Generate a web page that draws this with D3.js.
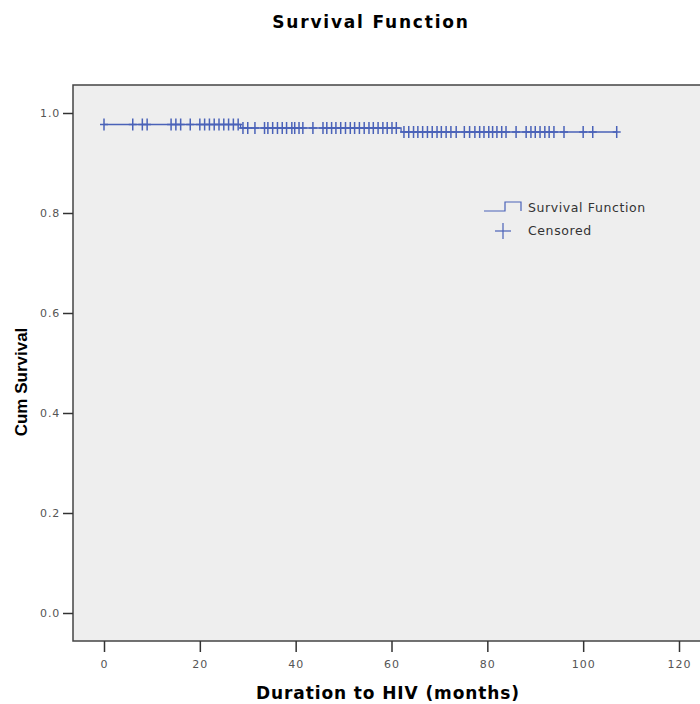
<!DOCTYPE html>
<html>
<head>
<meta charset="utf-8">
<script src="https://d3js.org/d3.v7.min.js"></script>
<style>
  body { margin: 0; background: #fff; }
  text { font-family: "DejaVu Sans", Verdana, sans-serif; }
</style>
</head>
<body>
<div id="chart"></div>
<script>
// step times (months) and survival after each step
var stepTimes = [0, 28.5, 62, 107];
var stepSurv = [0.977, 0.970, 0.962, 0.962];

// censored observations (months)
var censored = [0, 6, 8, 9, 14, 15, 16, 18, 20, 21, 22, 23, 24, 25, 26, 27, 28,
  29, 30, 31.5, 33.5, 34.2, 35.2, 36.2, 37.2, 38.1, 39.2, 39.8, 40.7, 41.5, 43.6,
  45.7, 46.5, 47.5, 48.4, 49.4, 50.4, 51.4, 52.3, 53.3, 54.3, 55.3, 56.2, 57.2,
  58.2, 59.1, 60.1, 61, 62.6, 63.6, 64.6, 65.5, 66.5, 67.5, 68.5, 69.5, 70.4,
  71.4, 72.4, 73.5, 75.2, 76.3, 77.4, 78.4, 79.3, 80.3, 81.1, 82, 83, 83.9, 86,
  88.1, 89.1, 90, 91, 92, 92.9, 93.9, 96, 100, 102, 107];

var xTicks = [0, 20, 40, 60, 80, 100, 120];
var yTicks = [0.0, 0.2, 0.4, 0.6, 0.8, 1.0];

var W = 700, H = 704;
var blue = "#4a62b8";

var svg = d3.select("#chart").append("svg")
  .attr("width", W).attr("height", H);

var x = d3.scaleLinear().domain([0, 120]).range([104, 679]);
var y = d3.scaleLinear().domain([0, 1]).range([613, 113]);

// plot background
svg.append("rect")
  .attr("x", 73).attr("y", 85)
  .attr("width", W - 73 + 10).attr("height", 641 - 85)
  .attr("fill", "#eeeeee")
  .attr("stroke", "#444").attr("stroke-width", 1.5);

// title
svg.append("text")
  .attr("x", 371).attr("y", 28)
  .attr("text-anchor", "middle")
  .attr("font-size", 17).attr("font-weight", "bold")
  .attr("letter-spacing", 1.8)
  .text("Survival Function");

// x axis
var xAxis = svg.append("g")
  .attr("transform", "translate(0,641)")
  .call(d3.axisBottom(x).tickValues(xTicks).tickSize(11).tickPadding(8)
    .tickFormat(d3.format("d")));
xAxis.select(".domain").remove();
xAxis.selectAll("line").attr("stroke", "#333").attr("stroke-width", 1.5);
xAxis.selectAll("text").attr("font-size", 11).attr("fill", "#555")
  .attr("letter-spacing", 1)
  .style("font-family", "DejaVu Sans, Verdana, sans-serif");

// y axis
var yAxis = svg.append("g")
  .attr("transform", "translate(73,0)")
  .call(d3.axisLeft(y).tickValues(yTicks).tickSize(10).tickPadding(3)
    .tickFormat(d3.format(".1f")));
yAxis.select(".domain").remove();
yAxis.selectAll("line").attr("stroke", "#333").attr("stroke-width", 1.5);
yAxis.selectAll("text").attr("font-size", 11).attr("fill", "#555")
  .attr("letter-spacing", 0.8)
  .style("font-family", "DejaVu Sans, Verdana, sans-serif");

// axis titles
svg.append("text")
  .attr("x", 388).attr("y", 699)
  .attr("text-anchor", "middle")
  .attr("font-size", 17).attr("font-weight", "bold")
  .attr("letter-spacing", 0.9)
  .text("Duration to HIV (months)");

svg.append("text")
  .attr("transform", "translate(27,382) rotate(-90)")
  .attr("text-anchor", "middle")
  .attr("font-size", 17).attr("font-weight", "bold")
  .style("font-family", "Liberation Sans Narrow, Arial Narrow, sans-serif")
  .style("font-stretch", "condensed")
  .text("Cum Survival");

// survival step line
var steps = stepTimes.map(function(t, i) { return [t, stepSurv[i]]; });
svg.append("path")
  .datum(steps)
  .attr("fill", "none")
  .attr("stroke", blue).attr("stroke-width", 1.3)
  .attr("d", d3.line()
    .x(function(d) { return x(d[0]); })
    .y(function(d) { return y(d[1]); })
    .curve(d3.curveStepAfter));

function survAt(t) {
  var s = stepSurv[0];
  for (var i = 0; i < stepTimes.length; i++) {
    if (t >= stepTimes[i]) s = stepSurv[i];
  }
  return s;
}

// censored marks
var marks = svg.append("g").attr("stroke", blue).attr("stroke-width", 1.5);
censored.forEach(function(t) {
  var cx = x(t), cy = y(survAt(t));
  marks.append("line").attr("x1", cx).attr("x2", cx)
    .attr("y1", cy - 6).attr("y2", cy + 6);
  marks.append("line").attr("x1", cx - 4).attr("x2", cx + 4)
    .attr("y1", cy).attr("y2", cy);
});

// legend
var lg = svg.append("g");
lg.append("path")
  .attr("d", "M484,211 L505,211 L505,202 L521,202 L521,211")
  .attr("fill", "none").attr("stroke", blue).attr("stroke-width", 1.2);
lg.append("text").attr("x", 528).attr("y", 212)
  .attr("font-size", 12.5).attr("fill", "#333").attr("letter-spacing", 0.6)
  .text("Survival Function");
lg.append("line").attr("x1", 495).attr("x2", 511).attr("y1", 231).attr("y2", 231)
  .attr("stroke", blue).attr("stroke-width", 1.2);
lg.append("line").attr("x1", 503).attr("x2", 503).attr("y1", 223).attr("y2", 239)
  .attr("stroke", blue).attr("stroke-width", 1.2);
lg.append("text").attr("x", 528).attr("y", 235)
  .attr("font-size", 12.5).attr("fill", "#333").attr("letter-spacing", 0.6)
  .text("Censored");
</script>
</body>
</html>
